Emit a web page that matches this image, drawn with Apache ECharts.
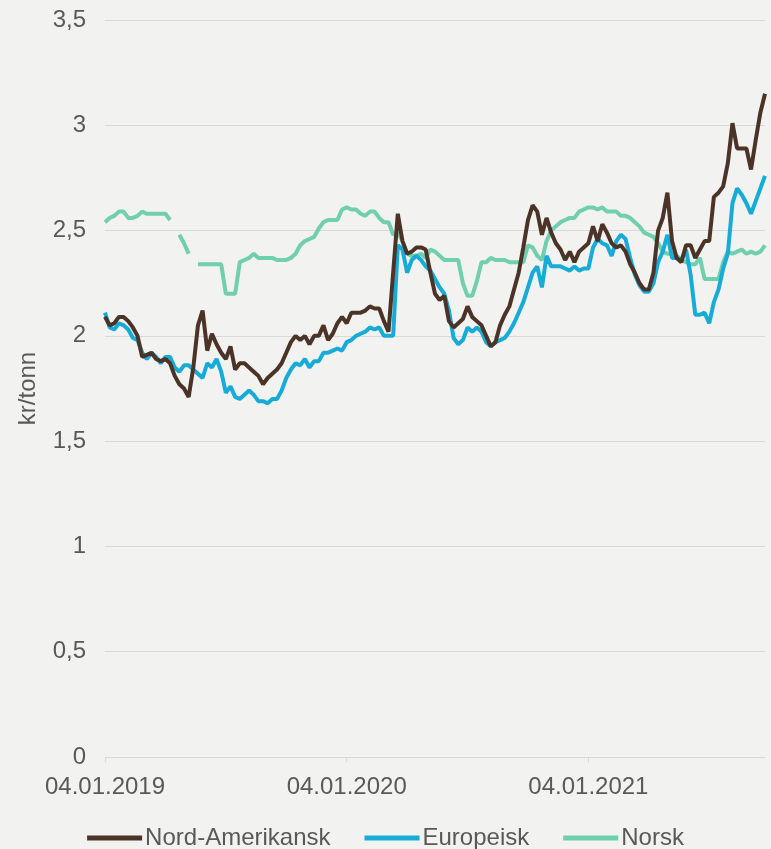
<!DOCTYPE html>
<html>
<head>
<meta charset="utf-8">
<script src="https://cdn.jsdelivr.net/npm/echarts@6/dist/echarts.min.js"></script>
<style>
  html, body { margin: 0; padding: 0; background: #f2f2f0; }
  #chart { width: 771px; height: 849px; }
</style>
</head>
<body>
<div id="chart"></div>
<script>
// ukentlige priser, kr/tonn, fra 04.01.2019
var startDate = new Date(2019, 0, 4);
var tickIndex = [0, 52, 104];
var tickLabels = ['04.01.2019', '04.01.2020', '04.01.2021'];
var yTicks = [0, 0.5, 1, 1.5, 2, 2.5, 3, 3.5];

var nordAmerikansk = [
    2.09, 2.05, 2.06, 2.09, 2.09, 2.07, 2.04, 2.00, 1.90, 1.91,
    1.92, 1.89, 1.88, 1.89, 1.87, 1.81, 1.77, 1.75, 1.71, 1.85,
    2.05, 2.12, 1.93, 2.01, 1.96, 1.92, 1.89, 1.95, 1.84, 1.87,
    1.87, 1.85, 1.83, 1.81, 1.77, 1.80, 1.82, 1.84, 1.87, 1.92,
    1.97, 2.00, 1.98, 2.00, 1.96, 2.00, 2.00, 2.05, 1.98, 2.01,
    2.06, 2.09, 2.06, 2.11, 2.11, 2.11, 2.12, 2.14, 2.13, 2.13,
    2.07, 2.02, 2.30, 2.58, 2.45, 2.39, 2.40, 2.42, 2.42, 2.41,
    2.30, 2.20, 2.17, 2.19, 2.07, 2.04, 2.06, 2.08, 2.14, 2.09,
    2.07, 2.05, 2.00, 1.95, 1.97, 2.05, 2.10, 2.14, 2.22, 2.30,
    2.42, 2.55, 2.62, 2.59, 2.48, 2.56, 2.49, 2.44, 2.41, 2.36,
    2.40, 2.35, 2.40, 2.42, 2.44, 2.52, 2.45, 2.53, 2.49, 2.44,
    2.42, 2.43, 2.40, 2.34, 2.30, 2.25, 2.22, 2.22, 2.30, 2.50,
    2.56, 2.68, 2.45, 2.37, 2.35, 2.43, 2.43, 2.37, 2.41, 2.45,
    2.45, 2.66, 2.68, 2.71, 2.82, 3.01, 2.89, 2.89, 2.89, 2.79,
    2.93, 3.06, 3.15
];

var europeisk = [
    2.11, 2.04, 2.03, 2.06, 2.05, 2.03, 1.99, 1.98, 1.92, 1.89,
    1.92, 1.90, 1.87, 1.90, 1.90, 1.85, 1.83, 1.86, 1.86, 1.84,
    1.82, 1.80, 1.87, 1.85, 1.89, 1.83, 1.73, 1.76, 1.71, 1.70,
    1.72, 1.74, 1.72, 1.69, 1.69, 1.68, 1.70, 1.70, 1.74, 1.80,
    1.84, 1.87, 1.86, 1.89, 1.85, 1.88, 1.88, 1.92, 1.92, 1.93,
    1.94, 1.93, 1.97, 1.98, 2.00, 2.01, 2.02, 2.04, 2.03, 2.04,
    2.00, 2.00, 2.00, 2.43, 2.41, 2.30, 2.36, 2.38, 2.36, 2.33,
    2.31, 2.27, 2.23, 2.20, 2.12, 1.99, 1.96, 1.98, 2.04, 2.02,
    2.04, 2.02, 1.97, 1.95, 1.97, 1.98, 1.99, 2.02, 2.06, 2.11,
    2.16, 2.23, 2.30, 2.33, 2.23, 2.38, 2.33, 2.33, 2.33, 2.32,
    2.31, 2.33, 2.31, 2.32, 2.32, 2.42, 2.46, 2.44, 2.43, 2.38,
    2.45, 2.48, 2.46, 2.37, 2.29, 2.24, 2.21, 2.21, 2.25, 2.35,
    2.40, 2.48, 2.37, 2.37, 2.36, 2.41, 2.29, 2.10, 2.10, 2.11,
    2.06, 2.16, 2.22, 2.32, 2.39, 2.63, 2.70, 2.67, 2.63, 2.58,
    2.64, 2.70, 2.76
];

var norsk = [
    2.54, 2.56, 2.57, 2.59, 2.59, 2.56, 2.56, 2.57, 2.59, 2.58,
    2.58, 2.58, 2.58, 2.58, 2.55, null, 2.48, 2.44, 2.39, null,
    2.34, 2.34, 2.34, 2.34, 2.34, 2.34, 2.20, 2.20, 2.20, 2.35,
    2.36, 2.37, 2.39, 2.37, 2.37, 2.37, 2.37, 2.36, 2.36, 2.36,
    2.37, 2.39, 2.43, 2.45, 2.46, 2.47, 2.51, 2.54, 2.55, 2.55,
    2.55, 2.60, 2.61, 2.60, 2.60, 2.58, 2.57, 2.59, 2.59, 2.56,
    2.54, 2.54, 2.48, 2.49, 2.45, 2.39, 2.38, 2.38, 2.39, 2.37,
    2.41, 2.40, 2.38, 2.36, 2.36, 2.36, 2.36, 2.25, 2.19, 2.19,
    2.26, 2.35, 2.35, 2.37, 2.36, 2.36, 2.36, 2.35, 2.35, 2.35,
    2.35, 2.43, 2.42, 2.38, 2.36, 2.45, 2.50, 2.52, 2.54, 2.55,
    2.56, 2.56, 2.59, 2.60, 2.61, 2.61, 2.60, 2.61, 2.59, 2.59,
    2.59, 2.57, 2.57, 2.56, 2.54, 2.52, 2.49, 2.48, 2.47, 2.44,
    2.40, 2.39, 2.39, 2.38, 2.36, 2.35, 2.34, 2.34, 2.37, 2.27,
    2.27, 2.27, 2.27, 2.35, 2.40, 2.39, 2.40, 2.41, 2.39, 2.40,
    2.39, 2.40, 2.43
];

// datoer for hver uke
var weeks = [];
for (var i = 0; i < nordAmerikansk.length; i++) {
    var d = new Date(startDate.getTime() + i * 7 * 86400000);
    weeks.push(('0' + d.getDate()).slice(-2) + '.' + ('0' + (d.getMonth() + 1)).slice(-2) + '.' + d.getFullYear());
}

var textColor = '#595959';
var font = '"Liberation Sans", Arial, sans-serif';

var chart = echarts.init(document.getElementById('chart'));
var option = {
    backgroundColor: '#f2f2f0',
    animation: false,
    grid: { left: 105, right: 6, top: 20, bottom: 92 },
    legend: {
        top: 821,
        left: 'center',
        icon: 'rect',
        itemWidth: 55,
        itemHeight: 5,
        itemGap: 34,
        textStyle: { color: textColor, fontSize: 24, fontFamily: font, padding: [0, 0, 0, -2] },
        data: ['Nord-Amerikansk', 'Europeisk', 'Norsk']
    },
    xAxis: {
        type: 'category',
        boundaryGap: false,
        data: weeks,
        axisLine: { lineStyle: { color: '#d9d9d9', width: 1 } },
        axisTick: {
            length: 5,
            lineStyle: { color: '#d9d9d9' },
            interval: function (idx) { return tickIndex.indexOf(idx) >= 0; }
        },
        axisLabel: {
            color: textColor,
            fontSize: 24,
            fontFamily: font,
            margin: 18,
            interval: function (idx) { return tickIndex.indexOf(idx) >= 0; },
            formatter: function (val, idx) {
                var k = tickIndex.indexOf(idx);
                return k >= 0 ? tickLabels[k] : '';
            }
        },
        splitLine: { show: false }
    },
    yAxis: {
        type: 'value',
        min: yTicks[0],
        max: yTicks[yTicks.length - 1],
        interval: 0.5,
        name: 'kr/tonn',
        nameLocation: 'middle',
        nameGap: 65,
        nameTextStyle: { color: textColor, fontSize: 24, fontFamily: font },
        axisLine: { show: false },
        axisTick: { show: false },
        axisLabel: {
            color: textColor,
            fontSize: 24,
            fontFamily: font,
            margin: 19,
            formatter: function (v) { return String(v).replace('.', ','); }
        },
        splitLine: { lineStyle: { color: '#d9d9d9', width: 1 } }
    },
    series: [
        {
            name: 'Nord-Amerikansk',
            type: 'line',
            data: nordAmerikansk,
            symbol: 'none',
            color: '#4b3427',
            lineStyle: { width: 4 },
            z: 3
        },
        {
            name: 'Europeisk',
            type: 'line',
            data: europeisk,
            symbol: 'none',
            color: '#17acd8',
            lineStyle: { width: 4 },
            z: 2
        },
        {
            name: 'Norsk',
            type: 'line',
            data: norsk,
            symbol: 'none',
            color: '#6fcfae',
            lineStyle: { width: 4 },
            connectNulls: false,
            z: 1
        }
    ]
};
chart.setOption(option);
</script>
</body>
</html>
